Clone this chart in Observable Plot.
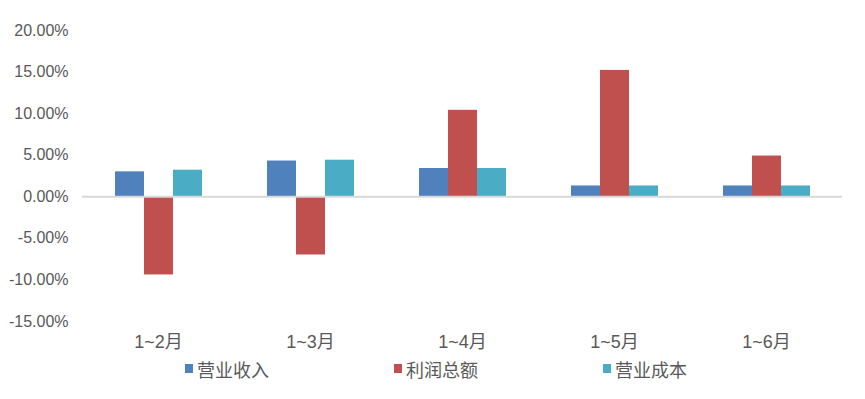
<!DOCTYPE html>
<html>
<head>
<meta charset="utf-8">
<script src="https://cdn.jsdelivr.net/npm/d3@7"></script>
<script src="https://cdn.jsdelivr.net/npm/@observablehq/plot@0.6"></script>
<style>
  html, body { margin: 0; padding: 0; background: #fff; }
  #wrap { position: relative; width: 865px; height: 399px; font-family: 'Liberation Sans', 'Noto Sans CJK SC', sans-serif; color: #595959; }
  #legend { position: absolute; left: 0; top: 358px; width: 865px; height: 24px; font-size: 18px; font-family: 'Noto Sans CJK SC', sans-serif; }
  .item { position: absolute; top: 0; height: 22px; line-height: 22px; white-space: nowrap; }
  .sw { position: absolute; left: 0; top: 6px; width: 8px; height: 9px; }
  .tx { position: absolute; left: 12px; top: 0; }
</style>
</head>
<body>
<div id="wrap"><div id="chart"></div><div id="legend"></div></div>
<script>
const months = ["1~2月", "1~3月", "1~4月", "1~5月", "1~6月"];
const seriesNames = ["营业收入", "利润总额", "营业成本"];
const seriesColors = ["#4F81BD", "#C0504D", "#4BACC6"];
const revenue = [3.0, 4.3, 3.4, 1.3, 1.3];
const profit = [-9.4, -7.0, 10.4, 15.2, 4.9];
const cost = [3.2, 4.4, 3.4, 1.3, 1.3];
const yTicks = [-15, -10, -5, 0, 5, 10, 15, 20];

const seriesValues = [revenue, profit, cost];
const data = months.flatMap((m, i) =>
  seriesNames.map((s, j) => ({month: m, series: s, value: seriesValues[j][i]}))
);

const chart = Plot.plot({
  width: 865,
  height: 358,
  marginTop: 30,
  marginBottom: 37,
  marginLeft: 81,
  marginRight: 22,
  style: {fontFamily: "'Liberation Sans', 'Noto Sans CJK SC', sans-serif", fontSize: "16px", color: "#595959", background: "white"},
  fx: {domain: months, padding: 0, axis: null},
  x: {domain: seriesNames, axis: null, paddingInner: 0, paddingOuter: 1.1},
  y: {domain: [-15, 20], ticks: yTicks, tickFormat: d => d.toFixed(2) + "%", tickSize: 0, tickPadding: 14, label: null},
  color: {domain: seriesNames, range: seriesColors},
  marks: [
    Plot.barY(data, {fx: "month", x: "series", y: "value", fill: "series"}),
    Plot.ruleY([0], {stroke: "#d9d9d9", strokeWidth: 2}),
    Plot.axisFx({anchor: "bottom", tickSize: 0, tickPadding: 14, label: null, fontSize: 18})
  ]
});
document.getElementById("chart").appendChild(chart);

const legend = document.getElementById("legend");
const legendX = [185, 394, 603];
seriesNames.forEach((s, i) => {
  const it = document.createElement("div");
  it.className = "item";
  it.style.left = legendX[i] + "px";
  const sw = document.createElement("span");
  sw.className = "sw";
  sw.style.background = seriesColors[i];
  it.appendChild(sw);
  const tx = document.createElement("span");
  tx.className = "tx";
  tx.textContent = s;
  it.appendChild(tx);
  legend.appendChild(it);
});
</script>
</body>
</html>
